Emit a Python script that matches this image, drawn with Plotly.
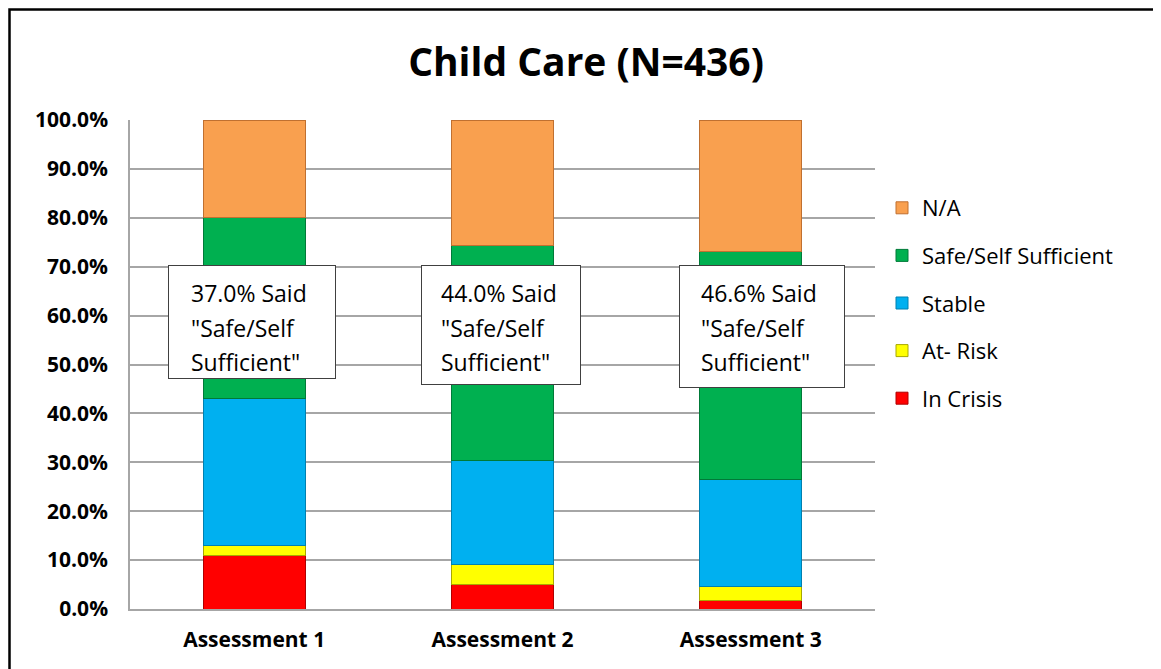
import plotly.graph_objects as go

categories = ["Assessment 1", "Assessment 2", "Assessment 3"]
series_names = ["In Crisis", "At- Risk", "Stable", "Safe/Self Sufficient", "N/A"]
in_crisis = [11.0, 5.0, 1.8]
at_risk = [2.0, 4.1, 2.8]
stable = [30.0, 21.3, 21.9]
safe = [37.0, 44.0, 46.6]
na = [20.0, 25.6, 26.9]
box_lines = [["37.0% Said", '"Safe/Self', 'Sufficient"'],
             ["44.0% Said", '"Safe/Self', 'Sufficient"'],
             ["46.6% Said", '"Safe/Self', 'Sufficient"']]
y_ticks = [0, 10, 20, 30, 40, 50, 60, 70, 80, 90, 100]
y_ticktext = [f"{v:.1f}%" for v in y_ticks]

values = [in_crisis, at_risk, stable, safe, na]
colors = ["#FF0000", "#FFFF00", "#00B0F0", "#00B050", "#F9A04F"]
edges = ["#B00000", "#A8A800", "#0080B0", "#007A38", "#C07030"]
legend_ranks = [5, 4, 3, 2, 1]

FONT = "Open Sans"
OFF = 8  # page body margin
W, H = 1161 - OFF, 669 - OFF
# plot area in page pixels
L, R, T, B = 130, 875, 120, 609


def px_x(p):
    return (p - L) / (R - L)


def px_y(p):
    return (B - p) / (B - T)


def data_y(p):
    return 100 * (B - p) / (B - T)


fig = go.Figure()
for name, vals, c, e, rk in zip(series_names, values, colors, edges, legend_ranks):
    fig.add_trace(go.Bar(
        x=categories, y=vals, name=name, legendgroup=name, legendrank=rk,
        marker=dict(color=c, line=dict(color=e, width=1)),
    ))

cat_centers = [254, 502, 751]
box_left = [168, 420, 679]
box_right = [336, 580, 845]
box_bottom = [379, 385, 388]
box_top = 265
text_left = [189, 438, 699]
line_y = [293, 328, 362]

for i, cat in enumerate(categories):
    bw = box_right[i] - box_left[i]
    bh = box_bottom[i] - box_top
    cx = (box_left[i] + box_right[i]) / 2
    fig.add_annotation(
        x=cat, y=data_y(box_top), xref="x", yref="y", text=" ", showarrow=False,
        xanchor="center", yanchor="top", xshift=cx - cat_centers[i],
        width=bw - 2, height=bh - 2, borderpad=0,
        bgcolor="white", bordercolor="#404040", borderwidth=1,
    )
    for ln, ly in zip(box_lines[i], line_y):
        fig.add_annotation(
            x=cat, y=data_y(ly), xref="x", yref="y", text=ln, showarrow=False,
            xanchor="left", yanchor="middle", xshift=text_left[i] - cat_centers[i],
            font=dict(family=FONT, size=23, color="black"),
        )

# outer chart border (cropped on the right and bottom)
fig.add_shape(type="rect", xref="paper", yref="paper",
              x0=px_x(9.5), x1=px_x(1400), y0=px_y(900), y1=px_y(9.5),
              line=dict(color="black", width=2.5), fillcolor="rgba(0,0,0,0)")

fig.update_layout(
    width=W, height=H,
    margin=dict(l=L - OFF, r=W - (R - OFF), t=T - OFF, b=H - (B - OFF)),
    paper_bgcolor="white", plot_bgcolor="white",
    barmode="stack", bargap=0.59,
    title=dict(text="<b>Child Care (N=436)</b>", x=(586 - OFF) / W, xanchor="center",
               y=1 - (62 - OFF) / H, yanchor="middle",
               font=dict(family=FONT, size=39, color="black")),
    font=dict(family=FONT, color="black"),
    legend=dict(traceorder="grouped", tracegroupgap=16,
                x=px_x(882), xanchor="left", y=px_y(187), yanchor="top",
                font=dict(family=FONT, size=22, color="black"),
                bgcolor="rgba(0,0,0,0)", itemwidth=30),
    showlegend=True,
)
fig.update_yaxes(range=[0, 100], tickvals=y_ticks, ticktext=y_ticktext,
                 showgrid=True, gridcolor="#A6A6A6", gridwidth=1.5,
                 showline=True, linecolor="#A6A6A6", linewidth=1.5,
                 zeroline=False, ticks="", ticklabelstandoff=16,
                 tickfont=dict(family=FONT, size=21, color="black", weight="bold"))
fig.update_xaxes(showline=True, linecolor="#A6A6A6", linewidth=1.5, ticks="",
                 ticklabelstandoff=11,
                 tickfont=dict(family=FONT, size=21, color="black", weight="bold"))

fig.write_html("out.html")
